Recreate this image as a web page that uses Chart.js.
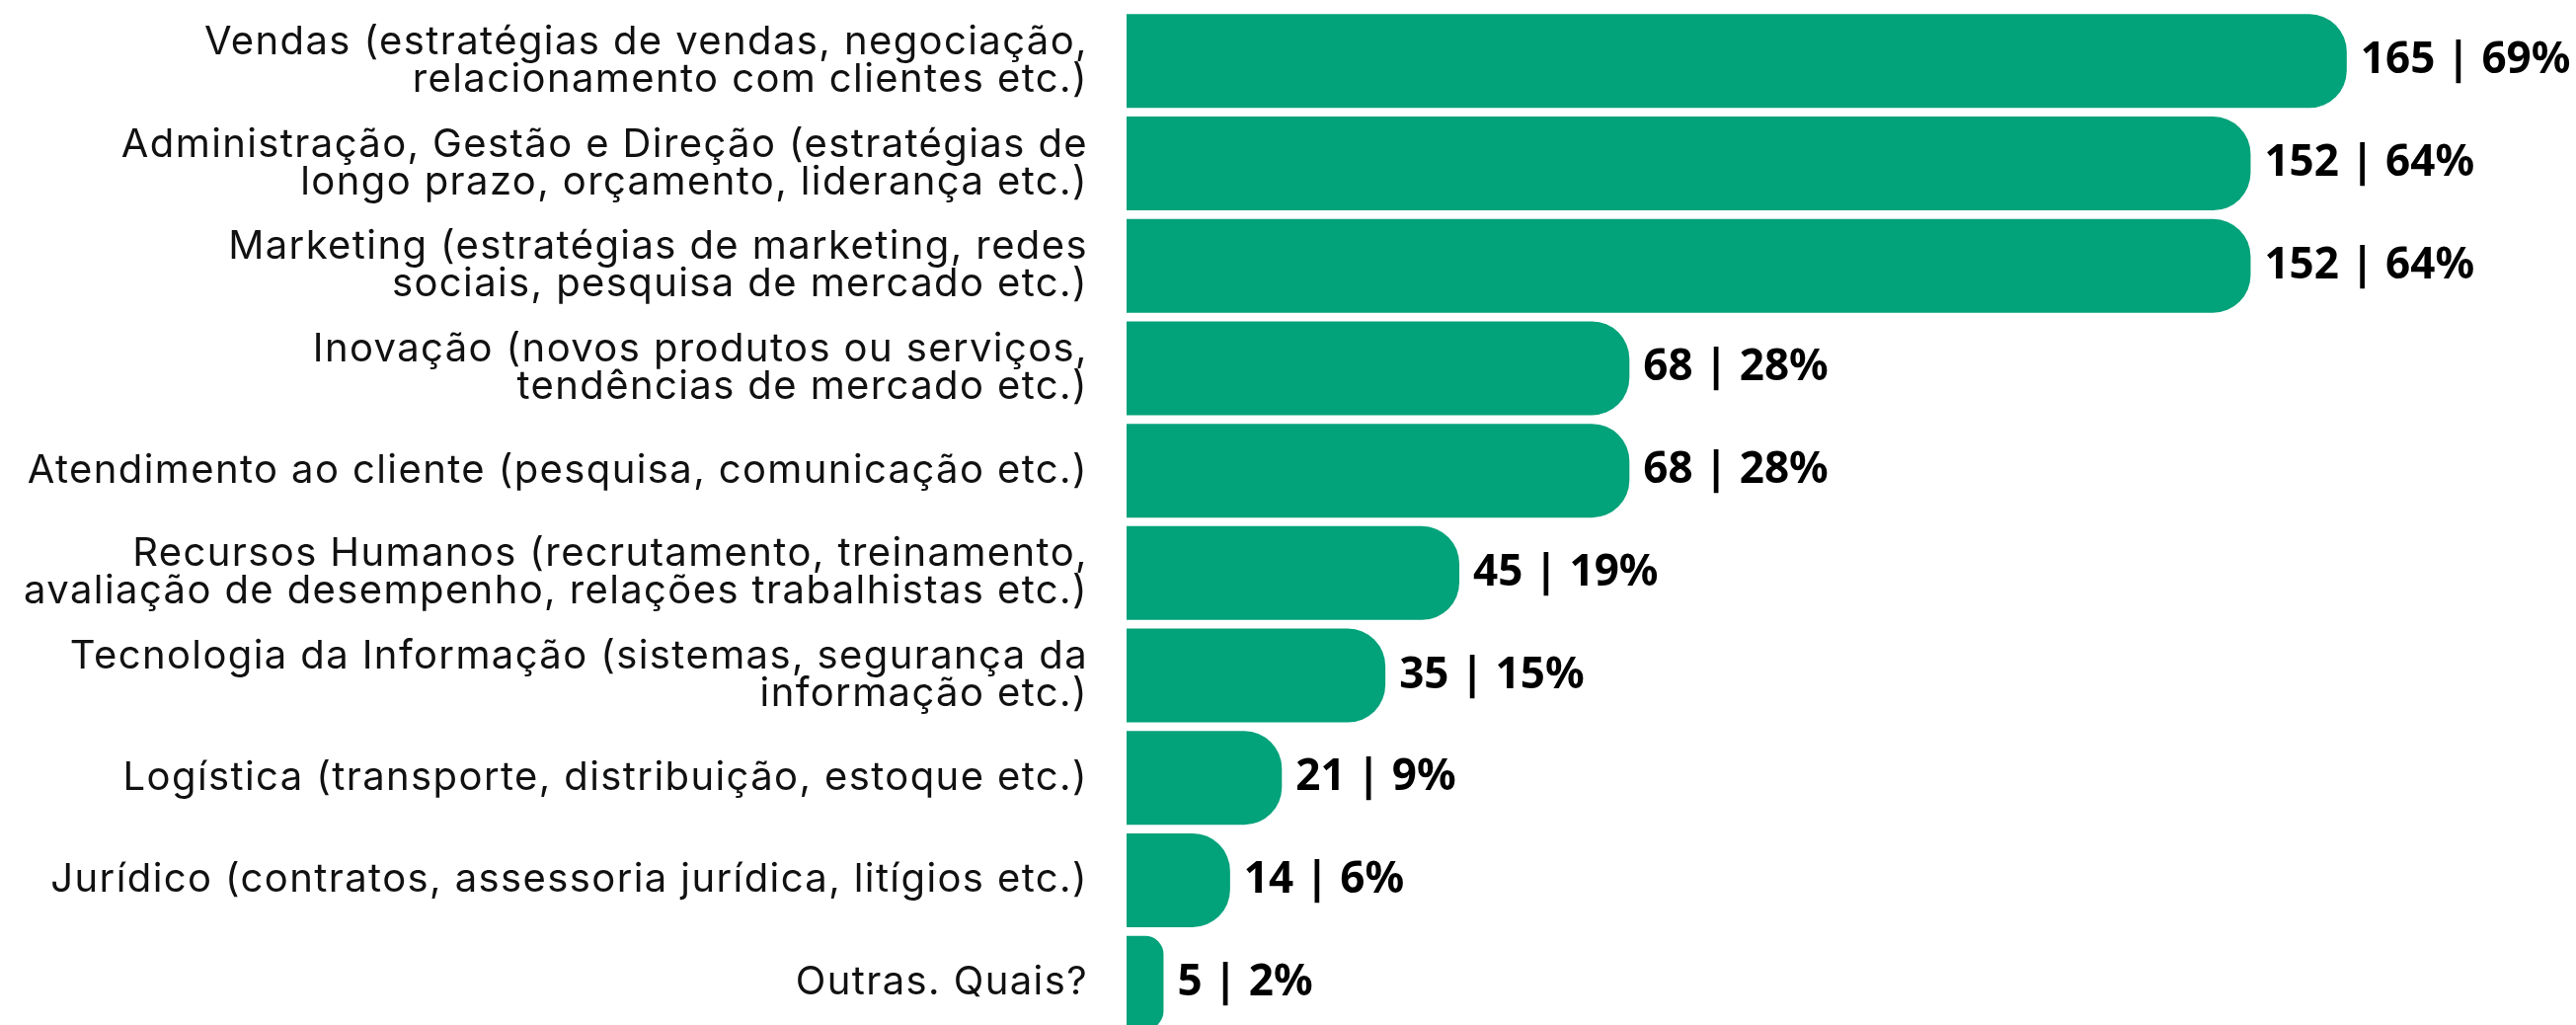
<!DOCTYPE html>
<html>
<head>
<meta charset="utf-8">
<script src="https://cdn.jsdelivr.net/npm/chart.js@4"></script>
<style>
    html, body { margin: 0; padding: 0; background: #fff; overflow: hidden; }
</style>
</head>
<body>
<canvas id="chart" width="2609" height="1060"></canvas>
<script>
// 카테고리
const categories = [
    ['Vendas (estratégias de vendas, negociação,', 'relacionamento com clientes etc.)'],
    ['Administração, Gestão e Direção (estratégias de', 'longo prazo, orçamento, liderança etc.)'],
    ['Marketing (estratégias de marketing, redes', 'sociais, pesquisa de mercado etc.)'],
    ['Inovação (novos produtos ou serviços,', 'tendências de mercado etc.)'],
    'Atendimento ao cliente (pesquisa, comunicação etc.)',
    ['Recursos Humanos (recrutamento, treinamento,', 'avaliação de desempenho, relações trabalhistas etc.)'],
    ['Tecnologia da Informação (sistemas, segurança da', 'informação etc.)'],
    'Logística (transporte, distribuição, estoque etc.)',
    'Jurídico (contratos, assessoria jurídica, litígios etc.)',
    'Outras. Quais?'
];

// 값
const counts = [165, 152, 152, 68, 68, 45, 35, 21, 14, 5];
const percents = [69, 64, 64, 28, 28, 19, 15, 9, 6, 2];

// 글자 간격 (축 라벨)
const letterSpacing = {
    id: 'letterSpacing',
    beforeUpdate(chart) { chart.ctx.letterSpacing = '1.4px'; },
    beforeDraw(chart) { chart.ctx.letterSpacing = '1.4px'; }
};

// 막대 끝 라벨
const valueLabels = {
    id: 'valueLabels',
    afterDatasetsDraw(chart) {
        const ctx = chart.ctx;
        const meta = chart.getDatasetMeta(0);
        ctx.save();
        ctx.letterSpacing = '0px';
        ctx.font = 'bold 44px "Noto Sans"';
        ctx.fillStyle = '#000';
        ctx.textBaseline = 'middle';
        ctx.textAlign = 'left';
        meta.data.forEach((bar, i) => {
            ctx.fillText(counts[i] + ' | ' + percents[i] + '%', bar.x + 14, bar.y);
        });
        ctx.restore();
    }
};

new Chart(document.getElementById('chart'), {
    type: 'bar',
    data: {
        labels: categories,
        datasets: [{
            data: counts,
            backgroundColor: '#02a27a',
            borderRadius: { topLeft: 0, bottomLeft: 0, topRight: 38, bottomRight: 38 },
            borderSkipped: false,
            barPercentage: 1,
            categoryPercentage: 0.916
        }]
    },
    options: {
        indexAxis: 'y',
        responsive: false,
        animation: false,
        layout: { padding: { top: 10, bottom: 13, right: 0, left: 0 } },
        plugins: {
            legend: { display: false },
            tooltip: { enabled: false }
        },
        scales: {
            x: {
                display: false,
                min: 0,
                max: 196
            },
            y: {
                grid: { display: false, drawTicks: false },
                border: { display: false },
                afterFit(scale) {
                    scale.width = 1141;
                    scale.paddingTop = 0;
                    scale.paddingBottom = 0;
                },
                ticks: {
                    color: '#111',
                    padding: 39,
                    font: { family: 'Inter', size: 40, lineHeight: 0.95 }
                }
            }
        }
    },
    plugins: [letterSpacing, valueLabels]
});
</script>
</body>
</html>
